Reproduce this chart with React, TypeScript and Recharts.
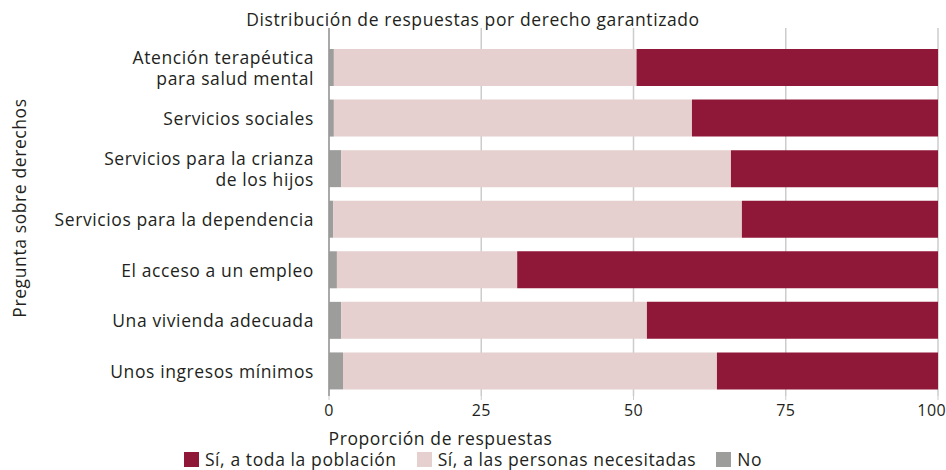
import React from "react";
import { BarChart, Bar, XAxis, YAxis, CartesianGrid } from "recharts";

// Distribución de respuestas por derecho garantizado (horizontal stacked bars, %)

const categories = [
  "Atención terapéutica\npara salud mental",
  "Servicios sociales",
  "Servicios para la crianza\nde los hijos",
  "Servicios para la dependencia",
  "El acceso a un empleo",
  "Una vivienda adecuada",
  "Unos ingresos mínimos",
];

const noValues = [0.8, 0.8, 2.0, 0.7, 1.3, 2.0, 2.3];
const necesitadasValues = [49.7, 58.8, 64.0, 67.1, 29.6, 50.2, 61.4];
const todaValues = [49.5, 40.4, 34.0, 32.2, 69.1, 47.8, 36.3];

const xTicks = [0, 25, 50, 75, 100];

const FONT = "'Open Sans', sans-serif";
const FS = 17.5;
const LS = 0.6;
const TEXT = "#231f20";

const legendItems = [
  { label: "Sí, a toda la población", color: "#8f1838" },
  { label: "Sí, a las personas necesitadas", color: "#e6cfcf" },
  { label: "No", color: "#9d9d9c" },
];

const data = categories.map((c, i) => ({
  name: c,
  no: noValues[i],
  necesitadas: necesitadasValues[i],
  toda: todaValues[i],
}));

function CategoryTick(props: any) {
  const { x, y, payload } = props;
  const lines = String(payload.value).split("\n");
  const lh = 21;
  const startY = y - ((lines.length - 1) * lh) / 2;
  return (
    <text
      x={x - 7}
      y={startY}
      textAnchor="end"
      dominantBaseline="central"
      fontFamily={FONT}
      fontSize={FS}
      letterSpacing={LS}
      fill={TEXT}
    >
      {lines.map((l, i) => (
        <tspan key={i} x={x - 7} y={startY + i * lh}>
          {l}
        </tspan>
      ))}
    </text>
  );
}

function ValueTick(props: any) {
  const { x, y, payload } = props;
  const last = payload.value === xTicks[xTicks.length - 1];
  return (
    <text
      x={last ? x + 8 : x}
      y={y + 8}
      textAnchor={last ? "end" : "middle"}
      dominantBaseline="central"
      fontFamily={FONT}
      fontSize={16}
      letterSpacing={0.4}
      fill={TEXT}
    >
      {payload.value}
    </text>
  );
}

export default function App() {
  return (
    <div
      style={{
        position: "absolute",
        left: 0,
        top: 0,
        width: 946,
        height: 470,
        fontFamily: FONT,
        color: TEXT,
        background: "#fff",
        overflow: "hidden",
      }}
    >
      <div
        style={{
          position: "absolute",
          top: 8,
          left: 0,
          width: 946,
          textAlign: "center",
          fontSize: FS,
          letterSpacing: LS,
          lineHeight: "22px",
        }}
      >
        Distribución de respuestas por derecho garantizado
      </div>
      <BarChart
        width={946}
        height={470}
        data={data}
        layout="vertical"
        margin={{ top: 28, right: 8, bottom: 44, left: 0 }}
        barSize={37}
      >
        <CartesianGrid horizontal={false} stroke="#cccccc" strokeWidth={1.5} />
        <XAxis
          type="number"
          domain={[0, 100]}
          ticks={xTicks}
          height={30}
          axisLine={false}
          tickLine={{ stroke: "#cccccc" }}
          tickSize={4}
          tick={<ValueTick />}
          interval={0}
          label={{
            content: (p: any) => {
              const vb = p.viewBox;
              return (
                <text
                  x={vb.x + vb.width / 2 - 193}
                  y={vb.y + 42}
                  textAnchor="middle"
                  dominantBaseline="central"
                  fontFamily={FONT}
                  fontSize={FS}
                  letterSpacing={LS}
                  fill={TEXT}
                >
                  Proporción de respuestas
                </text>
              );
            },
          }}
        />
        <YAxis
          type="category"
          dataKey="name"
          width={329}
          padding={{ top: 14, bottom: 0 }}
          axisLine={{ stroke: "#999999", strokeWidth: 1.5 }}
          tickLine={false}
          tick={<CategoryTick />}
          interval={0}
          label={{
            content: (p: any) => {
              const vb = p.viewBox;
              const cy = vb.y + vb.height / 2 - 4;
              return (
                <text
                  x={19}
                  y={cy}
                  transform={`rotate(-90, 19, ${cy})`}
                  textAnchor="middle"
                  dominantBaseline="central"
                  fontFamily={FONT}
                  fontSize={FS}
                  letterSpacing={LS}
                  fill={TEXT}
                >
                  Pregunta sobre derechos
                </text>
              );
            },
          }}
        />
        <Bar dataKey="no" stackId="a" fill="#9d9d9c" isAnimationActive={false} />
        <Bar dataKey="necesitadas" stackId="a" fill="#e6cfcf" isAnimationActive={false} />
        <Bar dataKey="toda" stackId="a" fill="#8f1838" isAnimationActive={false} />
      </BarChart>
      <div
        style={{
          position: "absolute",
          top: 449,
          left: 0,
          width: 946,
          display: "flex",
          justifyContent: "center",
          gap: 20,
          fontSize: FS,
          letterSpacing: LS,
          lineHeight: "20px",
        }}
      >
        {legendItems.map((it) => (
          <div key={it.label} style={{ display: "flex", alignItems: "center", gap: 6 }}>
            <span style={{ width: 15, height: 15, background: it.color, display: "inline-block" }} />
            <span>{it.label}</span>
          </div>
        ))}
      </div>
    </div>
  );
}
